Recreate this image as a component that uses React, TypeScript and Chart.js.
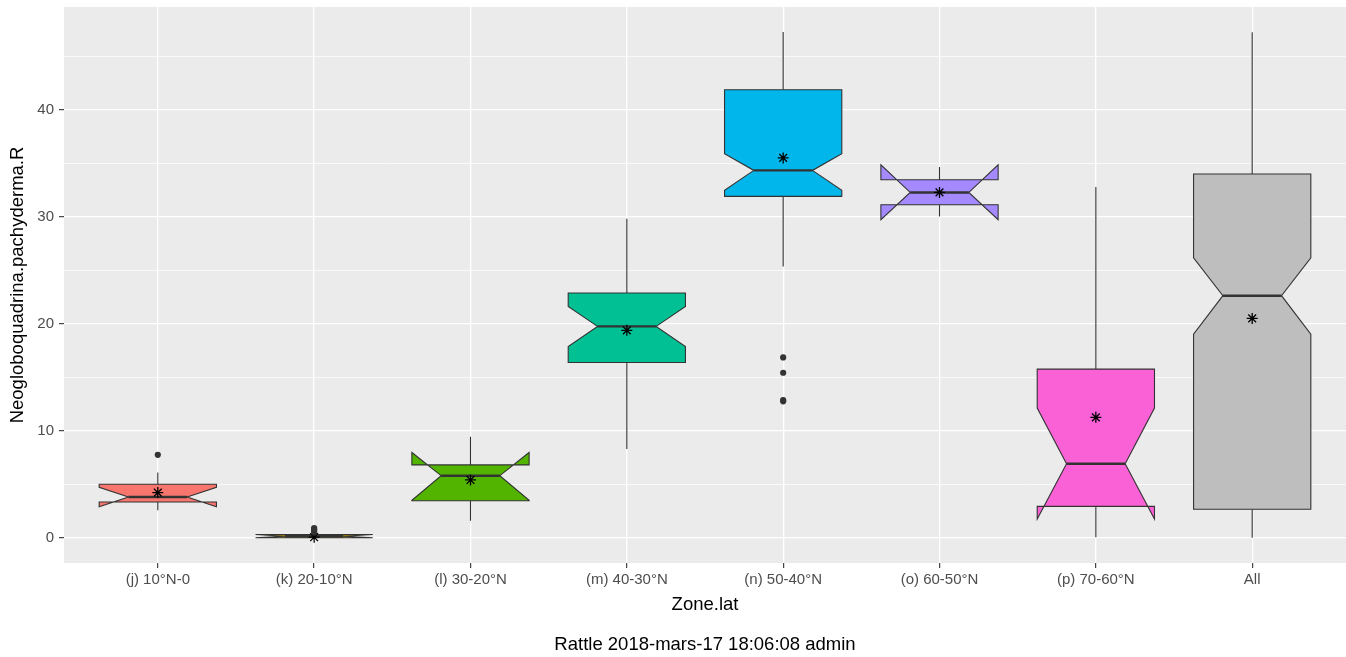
import React, { useEffect, useRef } from "react";
import { Chart, registerables } from "chart.js";

Chart.register(...registerables);

const FONT = "'Liberation Sans', Arial, Helvetica, sans-serif";

const categories = [
  "(j) 10°N-0",
  "(k) 20-10°N",
  "(l) 30-20°N",
  "(m) 40-30°N",
  "(n) 50-40°N",
  "(o) 60-50°N",
  "(p) 70-60°N",
  "All",
];
const fills = ["#F8766D", "#C49A00", "#53B400", "#00C094", "#00B6EB", "#A58AFF", "#FB61D7", "#BEBEBE"];

const whiskerLow = [2.56, 0.0, 1.59, 8.3, 25.36, 30.03, 0.05, 0.0];
const q1 = [3.34, 0.0, 3.46, 16.38, 31.9, 31.12, 2.93, 2.66];
const notchLow = [2.9, 0.0, 3.5, 17.88, 32.46, 29.72, 1.74, 19.02];
const median = [3.81, 0.14, 5.8, 19.75, 34.33, 32.27, 6.92, 22.62];
const notchHigh = [4.72, 0.3, 7.97, 21.62, 35.89, 34.86, 12.12, 26.17];
const q3 = [5.0, 0.3, 6.81, 22.87, 41.87, 33.46, 15.76, 33.99];
const whiskerHigh = [6.09, 0.35, 9.44, 29.8, 47.26, 34.64, 32.77, 47.25];
const means = [4.22, 0.05, 5.4, 19.38, 35.5, 32.27, 11.25, 20.5];
const outliers = [[7.75], [0.5, 0.65, 0.8, 0.9], [], [], [16.85, 15.42, 12.87, 12.75], [], [], []];

const yMajorTicks = [0, 10, 20, 30, 40];
const yAllGridTicks = [0, 5, 10, 15, 20, 25, 30, 35, 40, 45];

const xTitle = "Zone.lat";
const yTitle = "Neogloboquadrina.pachyderma.R";
const caption = "Rattle 2018-mars-17 18:06:08 admin";

const BOX_HALF = 0.375;

const panelBg = {
  id: "panelBg",
  beforeDraw(chart: any) {
    const { ctx, chartArea } = chart;
    ctx.save();
    ctx.fillStyle = "#EBEBEB";
    ctx.fillRect(chartArea.left, chartArea.top, chartArea.right - chartArea.left, chartArea.bottom - chartArea.top);
    ctx.restore();
  },
};

const boxPlugin = {
  id: "notchedBoxes",
  beforeDatasetsDraw(chart: any) {
    const { ctx, chartArea, scales } = chart;
    const xs = scales.x;
    const ys = scales.y;
    const py = (v: number) => ys.getPixelForValue(v);
    ctx.save();
    ctx.beginPath();
    ctx.rect(chartArea.left, chartArea.top, chartArea.right - chartArea.left, chartArea.bottom - chartArea.top);
    ctx.clip();
    ctx.lineJoin = "miter";
    categories.forEach((_, i) => {
      const xc = xs.getPixelForValue(i);
      const x0 = xs.getPixelForValue(i - BOX_HALF);
      const x1 = xs.getPixelForValue(i + BOX_HALF);
      const indent = (x1 - x0) * 0.25;
      ctx.strokeStyle = "#333333";
      ctx.lineWidth = 1.1;
      ctx.beginPath();
      ctx.moveTo(xc, py(q3[i]));
      ctx.lineTo(xc, py(whiskerHigh[i]));
      ctx.moveTo(xc, py(q1[i]));
      ctx.lineTo(xc, py(whiskerLow[i]));
      ctx.stroke();

      ctx.beginPath();
      ctx.moveTo(x0, py(q3[i]));
      ctx.lineTo(x0, py(notchHigh[i]));
      ctx.lineTo(x0 + indent, py(median[i]));
      ctx.lineTo(x0, py(notchLow[i]));
      ctx.lineTo(x0, py(q1[i]));
      ctx.lineTo(x1, py(q1[i]));
      ctx.lineTo(x1, py(notchLow[i]));
      ctx.lineTo(x1 - indent, py(median[i]));
      ctx.lineTo(x1, py(notchHigh[i]));
      ctx.lineTo(x1, py(q3[i]));
      ctx.closePath();
      ctx.fillStyle = fills[i];
      ctx.fill();
      ctx.stroke();

      ctx.lineWidth = 2.4;
      ctx.beginPath();
      ctx.moveTo(x0 + indent, py(median[i]));
      ctx.lineTo(x1 - indent, py(median[i]));
      ctx.stroke();
    });
    ctx.restore();
  },
};

const captionPlugin = {
  id: "caption",
  afterDraw(chart: any) {
    const { ctx, chartArea } = chart;
    ctx.save();
    ctx.font = `18.5px ${FONT}`;
    ctx.fillStyle = "#000000";
    ctx.textAlign = "center";
    ctx.textBaseline = "middle";
    ctx.fillText(caption, (chartArea.left + chartArea.right) / 2, 645);
    ctx.restore();
  },
};

export default function App() {
  const canvasRef = useRef<HTMLCanvasElement | null>(null);

  useEffect(() => {
    if (!canvasRef.current) return;
    const meanData = means.map((m, i) => ({ x: i, y: m }));
    const outlierData: { x: number; y: number }[] = [];
    outliers.forEach((list, i) => list.forEach((v) => outlierData.push({ x: i, y: v })));

    const isMajor = (c: any) => !!c.tick && yMajorTicks.includes(c.tick.value);

    const chart = new Chart(canvasRef.current, {
      type: "scatter",
      data: {
        datasets: [
          {
            label: "outliers",
            data: outlierData,
            pointStyle: "circle",
            pointRadius: 3.1,
            backgroundColor: "#333333",
            borderColor: "#333333",
            borderWidth: 0,
          },
          {
            label: "mean",
            data: meanData,
            pointStyle: "star",
            pointRadius: 5.5,
            backgroundColor: "#000000",
            borderColor: "#000000",
            borderWidth: 1.3,
          },
        ],
      },
      options: {
        responsive: false,
        animation: false,
        events: [],
        layout: { autoPadding: false, padding: { top: 7, left: 0, right: 0, bottom: 0 } },
        plugins: {
          legend: { display: false },
          tooltip: { enabled: false },
          title: { display: false },
        },
        scales: {
          x: {
            type: "linear",
            min: -0.6,
            max: 7.6,
            afterBuildTicks: (s: any) => {
              s.ticks = categories.map((_, i) => ({ value: i }));
            },
            afterFit: (s: any) => {
              s.height = 94;
              s.paddingLeft = 0;
              s.paddingRight = 0;
            },
            ticks: {
              autoSkip: false,
              maxRotation: 0,
              minRotation: 0,
              padding: 3,
              color: "#4D4D4D",
              font: { size: 15, family: FONT },
              callback: (v: any) => categories[v] ?? "",
            },
            grid: {
              color: "#FFFFFF",
              lineWidth: 1.3,
              tickColor: "#333333",
              tickLength: 5,
              tickWidth: 1.1,
            },
            border: { display: false },
            title: {
              display: true,
              text: xTitle,
              color: "#000000",
              font: { size: 18.5, family: FONT },
              padding: { top: 0, bottom: 41 },
            },
          },
          y: {
            type: "linear",
            min: -2.36,
            max: 49.6,
            afterBuildTicks: (s: any) => {
              s.ticks = yAllGridTicks.map((v) => ({ value: v }));
            },
            afterFit: (s: any) => {
              s.width = 64;
              s.paddingTop = 0;
              s.paddingBottom = 0;
            },
            ticks: {
              autoSkip: false,
              padding: 5,
              color: "#4D4D4D",
              font: { size: 15, family: FONT },
              callback: (v: any) => (yMajorTicks.includes(v) ? String(v) : ""),
            },
            grid: {
              color: "#FFFFFF",
              lineWidth: (c: any) => (isMajor(c) ? 1.3 : 0.7),
              tickColor: (c: any) => (isMajor(c) ? "#333333" : "rgba(0,0,0,0)"),
              tickLength: 5,
              tickWidth: 1.1,
            },
            border: { display: false },
            title: {
              display: true,
              text: yTitle,
              color: "#000000",
              font: { size: 18.5, family: FONT },
              padding: { top: 7, bottom: 0 },
            },
          },
        },
      },
      plugins: [panelBg, boxPlugin, captionPlugin],
    } as any);
    return () => chart.destroy();
  }, []);

  return (
    <div style={{ position: "fixed", left: 0, top: 0, width: 1346, height: 657, background: "#FFFFFF" }}>
      <canvas ref={canvasRef} width={1346} height={657} style={{ display: "block" }} />
    </div>
  );
}
